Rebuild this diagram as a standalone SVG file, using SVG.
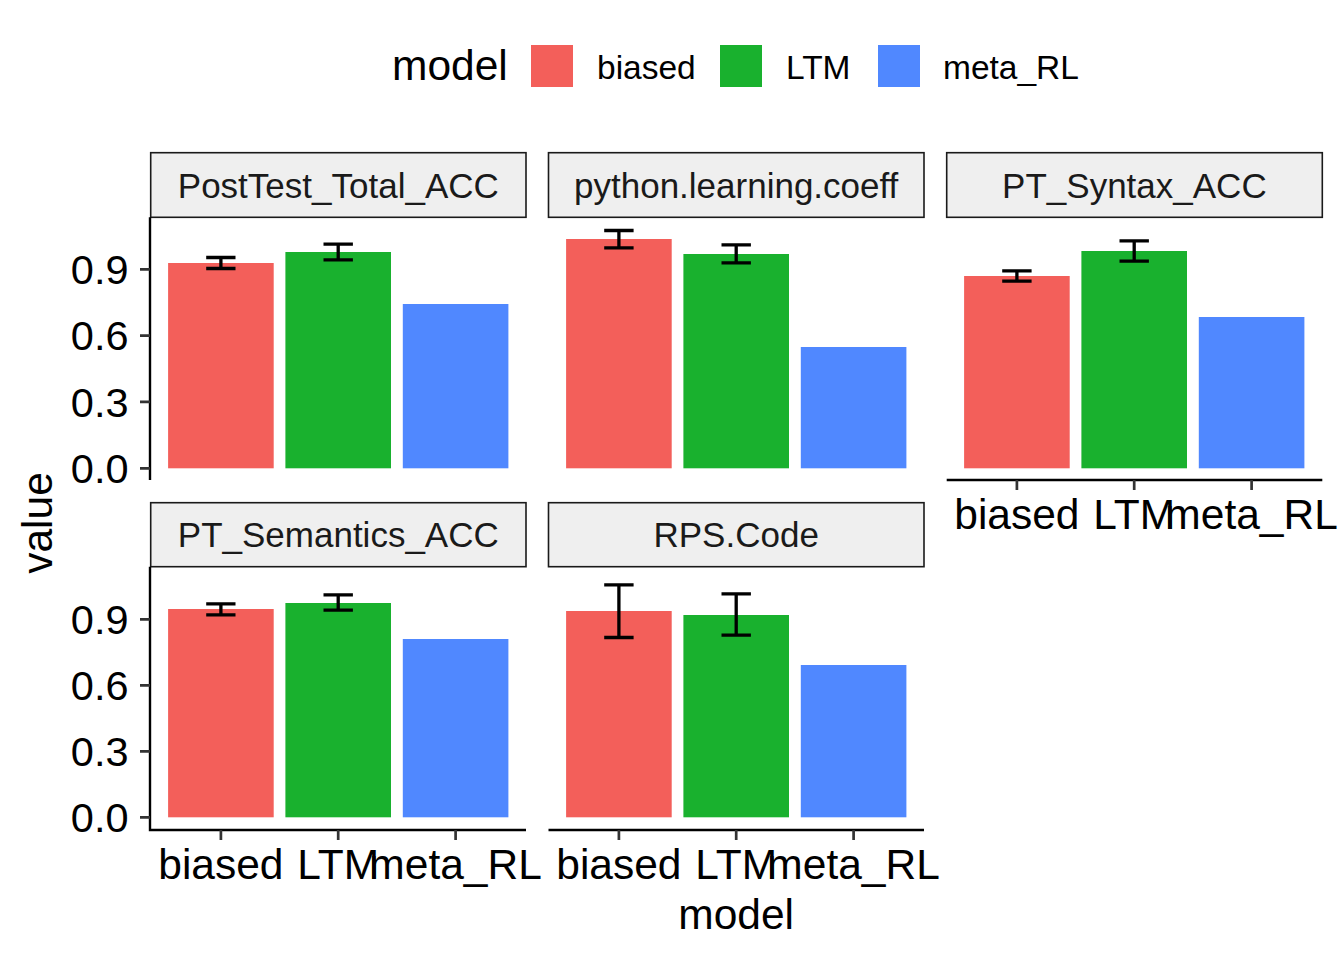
<svg xmlns="http://www.w3.org/2000/svg" width="1344" height="960" viewBox="0 0 1344 960">
<style>
text{font-family:"Liberation Sans",Arial,sans-serif;fill:#000}
.r{fill:#F35F5A}.g{fill:#19B12E}.b{fill:#5088FF}
.strip{fill:#EFEFEF;stroke:#1A1A1A;stroke-width:1.6}
.st{font-size:35px;text-anchor:middle;fill:#1A1A1A}
.ax{stroke:#000;stroke-width:2.4;fill:none}
.tk{stroke:#333;stroke-width:2.7;fill:none}
.yl{font-size:41.5px;text-anchor:end}
.xl{font-size:42.5px;text-anchor:middle}
.eb{stroke:#000;stroke-width:3.3;fill:none}
.lg{font-size:33.5px}
</style>
<rect width="1344" height="960" fill="#fff"/>
<g id="legend">
<text x="392" y="80" style="font-size:42.5px">model</text>
<rect class="r" x="531" y="45" width="42" height="42"/>
<text class="lg" x="597" y="79">biased</text>
<rect class="g" x="720" y="45" width="42" height="42"/>
<text class="lg" x="786" y="79">LTM</text>
<rect class="b" x="878" y="45" width="42" height="42"/>
<text class="lg" x="943" y="79">meta_RL</text>
</g>
<g id="panel-PostTest_Total_ACC">
<rect class="strip" x="150.7" y="152.7" width="375.3" height="64.6"/>
<text class="st" x="338.3" y="198.3">PostTest_Total_ACC</text>
<rect class="r" x="168.1" y="263" width="105.6" height="205.3"/>
<rect class="g" x="285.4" y="252" width="105.6" height="216.3"/>
<rect class="b" x="402.8" y="304" width="105.6" height="164.3"/>
<path class="eb" d="M206.2 257.5H235.5M220.9 257.5V268.5M206.2 268.5H235.5"/>
<path class="eb" d="M323.5 244.2H352.9M338.2 244.2V259.8M323.5 259.8H352.9"/>
</g>
<g id="panel-python.learning.coeff">
<rect class="strip" x="548.5" y="152.7" width="375.5" height="64.6"/>
<text class="st" x="736.2" y="198.3">python.learning.coeff</text>
<rect class="r" x="566.1" y="239" width="105.6" height="229.3"/>
<rect class="g" x="683.4" y="254" width="105.6" height="214.3"/>
<rect class="b" x="800.8" y="347" width="105.6" height="121.3"/>
<path class="eb" d="M604.2 230.5H633.6M618.9 230.5V247.8M604.2 247.8H633.6"/>
<path class="eb" d="M721.5 244.8H750.9M736.2 244.8V262.8M721.5 262.8H750.9"/>
</g>
<g id="panel-PT_Syntax_ACC">
<rect class="strip" x="946.7" y="152.7" width="375.6" height="64.6"/>
<text class="st" x="1134.4" y="198.3">PT_Syntax_ACC</text>
<rect class="r" x="964.1" y="276" width="105.6" height="192.3"/>
<rect class="g" x="1081.4" y="251" width="105.6" height="217.3"/>
<rect class="b" x="1198.8" y="317" width="105.6" height="151.3"/>
<path class="eb" d="M1002.2 270.8H1031.6M1016.9 270.8V281.2M1002.2 281.2H1031.6"/>
<path class="eb" d="M1119.5 240.8H1148.9M1134.2 240.8V261.2M1119.5 261.2H1148.9"/>
</g>
<g id="panel-PT_Semantics_ACC">
<rect class="strip" x="150.7" y="502.7" width="375.3" height="64"/>
<text class="st" x="338.3" y="547">PT_Semantics_ACC</text>
<rect class="r" x="168.1" y="609" width="105.6" height="208.3"/>
<rect class="g" x="285.4" y="603" width="105.6" height="214.3"/>
<rect class="b" x="402.8" y="639" width="105.6" height="178.3"/>
<path class="eb" d="M206.2 603.8H235.5M220.9 603.8V614.8M206.2 614.8H235.5"/>
<path class="eb" d="M323.5 594.8H352.9M338.2 594.8V610.2M323.5 610.2H352.9"/>
</g>
<g id="panel-RPS.Code">
<rect class="strip" x="548.5" y="502.7" width="375.5" height="64"/>
<text class="st" x="736.2" y="547">RPS.Code</text>
<rect class="r" x="566.1" y="611" width="105.6" height="206.3"/>
<rect class="g" x="683.4" y="615" width="105.6" height="202.3"/>
<rect class="b" x="800.8" y="665" width="105.6" height="152.3"/>
<path class="eb" d="M604.2 584.8H633.6M618.9 584.8V637.5M604.2 637.5H633.6"/>
<path class="eb" d="M721.5 593.8H750.9M736.2 593.8V635.2M721.5 635.2H750.9"/>
</g>
<g id="axes">
<path class="ax" d="M150 217.3V480"/>
<path class="tk" d="M140 269.3H150M140 335.6H150M140 401.9H150M140 468.3H150"/>
<text class="yl" x="128.5" y="284">0.9</text>
<text class="yl" x="128.5" y="350.3">0.6</text>
<text class="yl" x="128.5" y="416.6">0.3</text>
<text class="yl" x="128.5" y="483">0.0</text>
<path class="ax" d="M150 566.7V830H526"/>
<path class="tk" d="M140 619.3H150M140 685.3H150M140 751.3H150M140 817.3H150"/>
<text class="yl" x="128.5" y="634">0.9</text>
<text class="yl" x="128.5" y="700">0.6</text>
<text class="yl" x="128.5" y="766">0.3</text>
<text class="yl" x="128.5" y="832">0.0</text>
<path class="tk" d="M220.9 830V840M338.2 830V840M455.6 830V840"/>
<text class="xl" x="220.9" y="879">biased</text>
<text class="xl" x="338.2" y="879">LTM</text>
<text class="xl" x="455.6" y="879">meta_RL</text>
<path class="ax" d="M548.5 830H924"/>
<path class="tk" d="M618.9 830V840M736.2 830V840M853.6 830V840"/>
<text class="xl" x="618.9" y="879">biased</text>
<text class="xl" x="736.2" y="879">LTM</text>
<text class="xl" x="853.6" y="879">meta_RL</text>
<path class="ax" d="M946.7 480H1322.3"/>
<path class="tk" d="M1016.9 480V490M1134.2 480V490M1251.6 480V490"/>
<text class="xl" x="1016.9" y="529">biased</text>
<text class="xl" x="1134.2" y="529">LTM</text>
<text class="xl" x="1251.6" y="529">meta_RL</text>
<text class="xl" x="736.2" y="929">model</text>
<text class="xl" transform="translate(52 523) rotate(-90)" x="0" y="0">value</text>
</g>
</svg>
